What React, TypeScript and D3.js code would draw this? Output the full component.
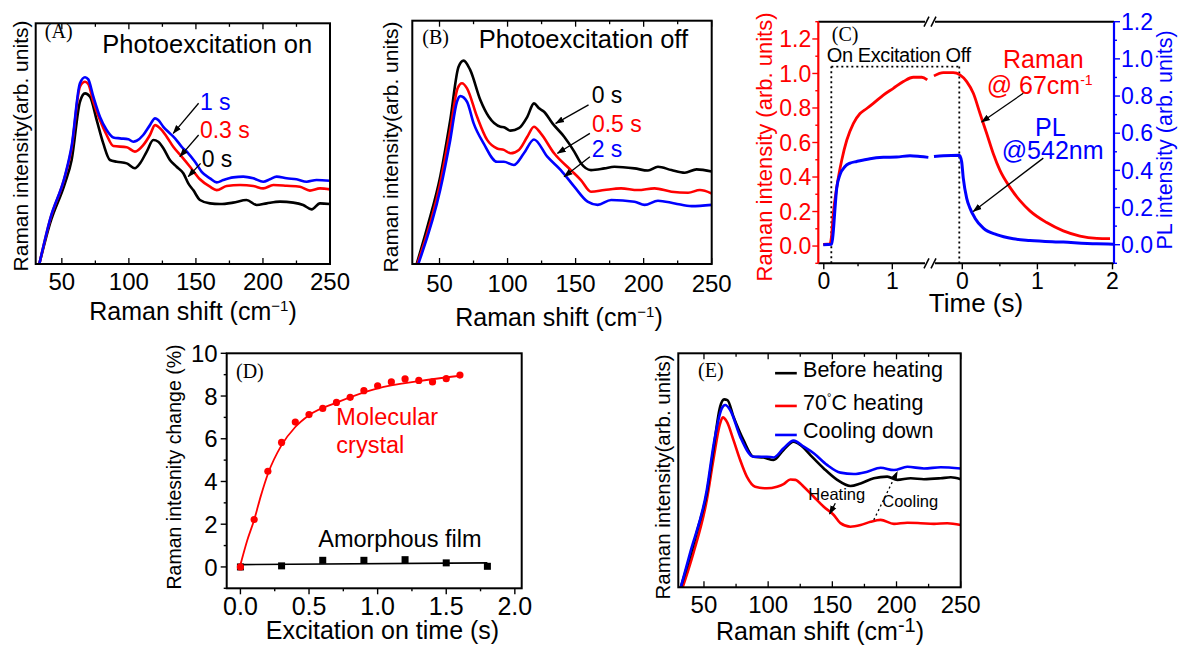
import React from 'react';
import * as d3 from 'd3';

type P = [number, number];

const RED = '#ff0000';
const BLUE = '#0000ff';
const SANS = "'Liberation Sans', Arial, sans-serif";
const SERIF = "'Liberation Serif', 'Times New Roman', serif";

// (A) photoexcitation on : [Raman shift, intensity]
const aTime0: P[] = [[33.2,0],[41.2,0.169],[52.3,0.335],[57.3,0.432],[63.5,0.674],[67.3,0.709],[71,0.695],[76,0.598],[80.9,0.501],[85.9,0.432],[90.9,0.425],[98.4,0.418],[104.5,0.398],[108.3,0.418],[113.3,0.467],[118.2,0.515],[121.9,0.508],[125.7,0.481],[130.6,0.432],[135.6,0.404],[140.6,0.377],[144.3,0.335],[148,0.307],[153,0.266],[160.5,0.252],[167.9,0.249],[177.8,0.255],[187.8,0.266],[195.3,0.245],[202.8,0.252],[212.7,0.259],[222.6,0.255],[230,0.245],[236.3,0.227],[242.5,0.252],[250,0.249]];
const aTime03: P[] = [[33.2,0],[41.2,0.183],[52.3,0.363],[57.3,0.481],[63.5,0.737],[67.3,0.757],[69.7,0.748],[73.5,0.674],[78.4,0.598],[83.4,0.536],[88.4,0.49],[98.4,0.485],[104.5,0.467],[110.7,0.494],[115.7,0.536],[119.5,0.577],[123.2,0.564],[128.2,0.529],[133.1,0.487],[139.4,0.446],[145.6,0.404],[153,0.352],[160.5,0.321],[165.5,0.307],[172.9,0.324],[182.9,0.328],[192.8,0.324],[200.2,0.314],[207.7,0.328],[217.7,0.325],[227.6,0.321],[235,0.305],[242.5,0.314],[250,0.31]];
const aTime1: P[] = [[33.2,0],[41.2,0.186],[52.3,0.366],[57.3,0.49],[63.5,0.751],[67.3,0.776],[69.7,0.767],[73.5,0.695],[78.4,0.612],[83.4,0.557],[88.4,0.526],[93.4,0.522],[99.6,0.518],[103.3,0.508],[105.8,0.512],[110.7,0.536],[115.7,0.577],[119.5,0.605],[121.9,0.598],[125.7,0.57],[130.6,0.543],[134.4,0.522],[139.4,0.487],[144.3,0.46],[149.3,0.425],[154.3,0.383],[160.5,0.356],[165.5,0.339],[170.4,0.349],[177.8,0.36],[185.3,0.363],[192.8,0.356],[200.2,0.342],[205.2,0.352],[210.2,0.363],[217.7,0.356],[225.1,0.352],[232.6,0.342],[240,0.349],[250,0.346]];

// (B) photoexcitation off
const bTime0: P[] = [[33.2,0],[41.8,0.167],[50.5,0.359],[57.9,0.592],[64,0.811],[67.7,0.836],[72.6,0.797],[80,0.674],[86.2,0.605],[94.8,0.564],[97.3,0.562],[102.2,0.548],[108.3,0.558],[114.5,0.605],[119.4,0.66],[123.1,0.64],[126.8,0.626],[133,0.578],[141.6,0.523],[149,0.462],[153.9,0.414],[161.3,0.386],[171.1,0.393],[178.5,0.4],[193.3,0.393],[203.2,0.384],[210.5,0.4],[220.4,0.386],[230.2,0.375],[238.9,0.389],[250,0.38]];
const bTime05: P[] = [[33.7,0],[50.5,0.332],[57.9,0.551],[63.3,0.722],[66.5,0.743],[70.2,0.722],[77.6,0.605],[85,0.51],[92.3,0.475],[97.3,0.469],[102.2,0.455],[108.3,0.469],[114.5,0.523],[119.4,0.564],[124.4,0.537],[134.2,0.455],[146.5,0.386],[153.9,0.345],[161.3,0.297],[171.1,0.304],[183.4,0.311],[195.7,0.304],[208,0.311],[220.4,0.297],[232.7,0.293],[241.3,0.304],[250,0.29]];
const bTime2: P[] = [[34.4,0],[50.5,0.304],[57.9,0.51],[62.8,0.667],[65.3,0.69],[70.2,0.667],[75.1,0.578],[82.4,0.496],[92.3,0.42],[97.3,0.42],[104.6,0.407],[112,0.455],[119.4,0.512],[129.2,0.441],[139.1,0.386],[149,0.318],[158.8,0.256],[166.2,0.243],[176.1,0.263],[193.3,0.256],[200.7,0.243],[210.5,0.26],[222.9,0.249],[235.2,0.238],[250,0.243]];

// (C) time traces, before and after the axis break : [time, intensity]
const ramanOn: P[] = [[-0.01,0.01],[0.09,0.012],[0.116,0.068],[0.139,0.185],[0.189,0.34],[0.261,0.496],[0.335,0.613],[0.431,0.71],[0.529,0.768],[0.627,0.797],[0.723,0.827],[0.869,0.875],[1.015,0.914],[1.161,0.953],[1.307,0.978],[1.43,0.978],[1.51,0.963]];
const ramanOff: P[] = [[-0.377,0.986],[-0.253,1.005],[-0.12,1.005],[-0.031,0.992],[0.059,0.953],[0.147,0.885],[0.236,0.768],[0.325,0.652],[0.413,0.535],[0.502,0.438],[0.635,0.34],[0.768,0.263],[0.9,0.204],[1.124,0.136],[1.345,0.088],[1.567,0.058],[1.79,0.045],[1.967,0.043]];
const plOn: P[] = [[-0.007,0],[0.116,0.003],[0.139,0.072],[0.164,0.197],[0.189,0.305],[0.237,0.377],[0.31,0.421],[0.383,0.439],[0.481,0.448],[0.675,0.463],[0.869,0.47],[1.064,0.472],[1.259,0.479],[1.405,0.475],[1.526,0.47]];
const plOff: P[] = [[-0.377,0.475],[-0.252,0.479],[-0.04,0.481],[-0.009,0.448],[0.013,0.358],[0.058,0.251],[0.102,0.197],[0.169,0.143],[0.28,0.089],[0.457,0.054],[0.679,0.032],[0.901,0.023],[1.345,0.014],[1.789,0.005],[2.01,0.003]];
const cLeftTicks = [0, 0.2, 0.4, 0.6, 0.8, 1.0, 1.2];
const cRightTicks = [0, 0.2, 0.4, 0.6, 0.8, 1.0, 1.2];

// (D) intensity change vs excitation time
const crystalTime = [0, 0.1, 0.2, 0.3, 0.4, 0.5, 0.6, 0.7, 0.8, 0.9, 1.0, 1.1, 1.2, 1.3, 1.4, 1.5, 1.6];
const crystalPct = [0, 2.22, 4.48, 5.83, 6.78, 7.13, 7.42, 7.7, 7.94, 8.25, 8.48, 8.66, 8.8, 8.73, 8.66, 8.81, 8.98];
const crystalFit: P[] = [[0,0.1],[0.05,1.25],[0.1,2.2],[0.15,3.35],[0.2,4.35],[0.3,5.7],[0.4,6.55],[0.5,7.1],[0.7,7.69],[1.0,8.36],[1.3,8.7],[1.6,8.95]];
const filmTime = [0, 0.3, 0.6, 0.9, 1.2, 1.5, 1.8];
const filmPct = [0, 0.05, 0.31, 0.31, 0.34, 0.19, 0.03];
const filmFit: P[] = [[0,0.11],[1.8,0.19]];
const dYTicks = [0, 2, 4, 6, 8, 10];
const dXTicks = [0, 0.5, 1.0, 1.5, 2.0];

// (E) heating cycle
const eBefore: P[] = [[31.9,0],[39.1,0.131],[45.6,0.259],[52.2,0.402],[57.3,0.587],[62.6,0.772],[65.7,0.803],[68.3,0.8],[73,0.729],[80.8,0.629],[88.6,0.558],[96.4,0.555],[104.2,0.544],[112,0.587],[119.8,0.622],[125.1,0.608],[132.9,0.565],[143.3,0.508],[153.8,0.459],[164.1,0.433],[172,0.444],[182.3,0.466],[192.8,0.473],[200.6,0.459],[211,0.466],[221.4,0.462],[234.4,0.466],[242.3,0.47],[250,0.462]];
const eHeating: P[] = [[33.4,0],[41.7,0.145],[52.2,0.373],[57.3,0.544],[62.6,0.701],[64.7,0.726],[67.8,0.708],[73,0.629],[78.2,0.544],[83.4,0.473],[89.9,0.43],[99,0.423],[106.9,0.43],[112,0.441],[117.3,0.461],[121.2,0.459],[127.7,0.43],[135.5,0.387],[143.3,0.344],[151.1,0.309],[156.3,0.274],[164.1,0.259],[172,0.266],[179.8,0.28],[187.6,0.288],[198,0.271],[208.4,0.276],[218.8,0.274],[229.2,0.271],[239.6,0.274],[250,0.266]];
const eCooling: P[] = [[31.9,0],[39.1,0.145],[52.2,0.416],[58.1,0.629],[63.9,0.765],[66.5,0.779],[70.4,0.758],[78.2,0.644],[88.6,0.558],[99,0.558],[104.2,0.555],[112,0.594],[119.8,0.627],[127.7,0.601],[135.5,0.573],[145.9,0.523],[156.3,0.49],[166.7,0.484],[177.2,0.494],[187.6,0.511],[198,0.501],[208.4,0.515],[221.4,0.508],[234.4,0.513],[250,0.508]];

const ramanTicks = [50, 100, 150, 200, 250];
const ramanMinor = [75, 125, 175, 225];

type Box = { l: number; t: number; r: number; b: number };
type Note = { text: string; color: string; at: P; from: P; to: P };

function SpectrumPanel(props: {
  id: string; box: Box; xDomain: [number, number];
  series: { data: P[]; color: string }[];
  label: string; labelAt: P; title?: string; titleAt?: P;
  notes?: Note[]; tickBase: number; xTitleAt: P; yTitleAt: P; yTitleSize: number;
  bigSup?: boolean; children?: (x: any, y: any) => React.ReactNode;
}) {
  const { box } = props;
  const x = d3.scaleLinear(props.xDomain, [box.l, box.r]);
  const y = d3.scaleLinear([0, 1], [box.b, box.t]);
  const line = d3.line<P>().x(d => x(d[0])).y(d => y(d[1])).curve(d3.curveMonotoneX);
  return (
    <g>
      <clipPath id={props.id}>
        <rect x={box.l} y={box.t - 2} width={box.r - box.l} height={box.b - box.t + 2} />
      </clipPath>
      <g clipPath={`url(#${props.id})`}>
        {props.series.map((s, i) => (
          <path key={i} d={line(s.data) || ''} fill="none" stroke={s.color} strokeWidth={2.6} strokeLinejoin="round" />
        ))}
      </g>
      <rect x={box.l} y={box.t} width={box.r - box.l} height={box.b - box.t} fill="none" stroke="#000" strokeWidth={2} />
      {ramanTicks.concat(ramanMinor).map(v => {
        const len = ramanTicks.includes(v) ? 6 : 3.5;
        return (
          <g key={v} stroke="#000" strokeWidth={1.3}>
            <line x1={x(v)} x2={x(v)} y1={box.b} y2={box.b - len} />
            <line x1={x(v)} x2={x(v)} y1={box.t} y2={box.t + len} />
          </g>
        );
      })}
      {ramanTicks.map(v => (
        <text key={v} x={x(v)} y={props.tickBase} textAnchor="middle" fontSize={24}>{v}</text>
      ))}
      <text x={props.xTitleAt[0]} y={props.xTitleAt[1]} textAnchor="middle" fontSize={25}>
        Raman shift (cm
        {props.bigSup
          ? <tspan dy={-8} fontSize={20}>-1</tspan>
          : <tspan dy={-9} fontSize={15}>−1</tspan>}
        <tspan dy={props.bigSup ? 8 : 9}>)</tspan>
      </text>
      <text transform={`translate(${props.yTitleAt[0]},${props.yTitleAt[1]}) rotate(-90)`} textAnchor="middle" fontSize={props.yTitleSize}>
        Raman intensity(arb. units)
      </text>
      <text x={x(props.labelAt[0])} y={y(props.labelAt[1])} fontFamily={SERIF} fontSize={20}>{props.label}</text>
      {props.title && props.titleAt && (
        <text x={x(props.titleAt[0])} y={y(props.titleAt[1])} fontSize={25.5}>{props.title}</text>
      )}
      {(props.notes || []).map((n, i) => (
        <g key={i}>
          <line x1={x(n.from[0])} y1={y(n.from[1])} x2={x(n.to[0])} y2={y(n.to[1])} stroke="#000" strokeWidth={1.3} markerEnd="url(#arrow)" />
          <text x={x(n.at[0])} y={y(n.at[1])} fill={n.color} fontSize={23}>{n.text}</text>
        </g>
      ))}
      {props.children && props.children(x, y)}
    </g>
  );
}

function PanelC() {
  const box: Box = { l: 818.3, t: 21.7, r: 1114, b: 263.3 };
  const brk = 930;
  const x1 = d3.scaleLinear([-0.08, 1.55], [box.l, brk]);
  const x2 = d3.scaleLinear([-0.43, 2.02], [brk, box.r]);
  const yR = d3.scaleLinear([-0.1, 1.3], [box.b, box.t]);
  const yB = d3.scaleLinear([-0.1, 1.2], [box.b, box.t]);
  const mk = (xs: any, ys: any) => d3.line<P>().x(d => xs(d[0])).y(d => ys(d[1])).curve(d3.curveMonotoneX);
  const minorY = d3.range(-0.1, 1.31, 0.1).map(v => Math.round(v * 10) / 10);
  const boxTop = yR(1.04);
  const onX = x1(0.11);
  const offX = x2(-0.04);
  const brkMark = (yy: number) => (
    <g>
      <rect x={brk - 5} y={yy - 3} width={10} height={6} fill="#fff" />
      <line x1={brk - 6} y1={yy + 5} x2={brk - 1} y2={yy - 5} stroke="#000" strokeWidth={1.6} />
      <line x1={brk + 1} y1={yy + 5} x2={brk + 6} y2={yy - 5} stroke="#000" strokeWidth={1.6} />
    </g>
  );
  return (
    <g>
      {/* dotted excitation window */}
      <g stroke="#000" strokeWidth={1.8} strokeDasharray="2,3" fill="none">
        <line x1={onX} x2={onX} y1={box.b} y2={boxTop} />
        <line x1={onX} x2={offX} y1={boxTop} y2={boxTop} />
        <line x1={offX} x2={offX} y1={boxTop} y2={box.b} />
      </g>
      <path d={mk(x1, yR)(ramanOn) || ''} fill="none" stroke={RED} strokeWidth={2.8} />
      <path d={mk(x2, yR)(ramanOff) || ''} fill="none" stroke={RED} strokeWidth={2.8} />
      <path d={mk(x1, yB)(plOn) || ''} fill="none" stroke={BLUE} strokeWidth={3} />
      <path d={mk(x2, yB)(plOff) || ''} fill="none" stroke={BLUE} strokeWidth={3} />
      {/* axes */}
      <line x1={box.l} x2={box.r} y1={box.t} y2={box.t} stroke="#000" strokeWidth={2} />
      <line x1={box.l} x2={box.r} y1={box.b} y2={box.b} stroke="#000" strokeWidth={2} />
      <line x1={box.l} x2={box.l} y1={box.t} y2={box.b} stroke={RED} strokeWidth={2.2} />
      <line x1={box.r} x2={box.r} y1={box.t} y2={box.b} stroke={BLUE} strokeWidth={2.2} />
      {brkMark(box.t)}
      {brkMark(box.b)}
      {minorY.map(v => {
        const major = cLeftTicks.some(t => Math.abs(t - v) < 1e-6);
        return (
          <g key={v}>
            <line x1={box.l} x2={box.l - (major ? 6 : 3)} y1={yR(v)} y2={yR(v)} stroke={RED} strokeWidth={1.4} />
            {v <= 1.2 && <line x1={box.r} x2={box.r + (major ? 6 : 3)} y1={yB(v)} y2={yB(v)} stroke={BLUE} strokeWidth={1.4} />}
          </g>
        );
      })}
      {cLeftTicks.map(v => (
        <text key={v} x={box.l - 7} y={yR(v)} dy="0.36em" textAnchor="end" fontSize={23} fill={RED}>{v.toFixed(1)}</text>
      ))}
      {cRightTicks.map(v => (
        <text key={v} x={box.r + 7} y={yB(v)} dy="0.36em" textAnchor="start" fontSize={23} fill={BLUE}>{v.toFixed(1)}</text>
      ))}
      {[0, 0.5, 1].map(v => (
        <line key={'a' + v} x1={x1(v)} x2={x1(v)} y1={box.b} y2={box.b + (v % 1 ? 3 : 6)} stroke="#000" strokeWidth={1.4} />
      ))}
      {[0, 0.5, 1, 1.5, 2].map(v => (
        <line key={'b' + v} x1={x2(v)} x2={x2(v)} y1={box.b} y2={box.b + (v % 1 ? 3 : 6)} stroke="#000" strokeWidth={1.4} />
      ))}
      {[0, 1].map(v => <text key={'ta' + v} x={x1(v)} y={289} textAnchor="middle" fontSize={23}>{v}</text>)}
      {[0, 1, 2].map(v => <text key={'tb' + v} x={x2(v)} y={289} textAnchor="middle" fontSize={23}>{v}</text>)}
      <text x={976} y={312} textAnchor="middle" fontSize={26}>Time (s)</text>
      <text transform="translate(772,147) rotate(-90)" textAnchor="middle" fontSize={22} fill={RED}>Raman intensity (arb. units)</text>
      <text transform="translate(1172,140) rotate(-90)" textAnchor="middle" fontSize={21.5} fill={BLUE}>PL intensity (arb. units)</text>
      <text x={x1(0.116)} y={yR(1.186)} fontFamily={SERIF} fontSize={20}>(C)</text>
      <text x={x1(0.043)} y={yR(1.069)} fontSize={20} letterSpacing={-0.4}>On Excitation Off</text>
      <text x={x2(0.542)} y={yR(1.031)} fontSize={25} fill={RED}>Raman</text>
      <text x={x2(0.325)} y={yR(0.879)} fontSize={25} fill={RED}>@ 67cm<tspan dy={-9} fontSize={14}>-1</tspan></text>
      <text x={x2(0.968)} y={yB(0.585)} fontSize={25} fill={BLUE}>PL</text>
      <text x={x2(0.525)} y={yB(0.463)} fontSize={25} fill={BLUE}>@542nm</text>
      <line x1={x2(0.812)} y1={yR(0.885)} x2={x2(0.258)} y2={yR(0.719)} stroke="#000" strokeWidth={1.3} markerEnd="url(#arrow)" />
      <line x1={x2(1.079)} y1={yB(0.466)} x2={x2(0.146)} y2={yB(0.179)} stroke="#000" strokeWidth={1.3} markerEnd="url(#arrow)" />
    </g>
  );
}

function PanelD() {
  const box: Box = { l: 226.7, t: 353.3, r: 521.7, b: 588.3 };
  const x = d3.scaleLinear([-0.1, 2.05], [box.l, box.r]);
  const y = d3.scaleLinear([-1, 10], [box.b, box.t]);
  const fit = d3.line<P>().x(d => x(d[0])).y(d => y(d[1])).curve(d3.curveMonotoneX);
  const yMinor = [-1, 1, 3, 5, 7, 9];
  const xMinor = [0.25, 0.75, 1.25, 1.75];
  return (
    <g>
      <rect x={box.l} y={box.t} width={box.r - box.l} height={box.b - box.t} fill="none" stroke="#000" strokeWidth={2} />
      {dYTicks.map(v => <line key={v} x1={box.l} x2={box.l - 6} y1={y(v)} y2={y(v)} stroke="#000" strokeWidth={1.4} />)}
      {yMinor.map(v => <line key={v} x1={box.l} x2={box.l - 3} y1={y(v)} y2={y(v)} stroke="#000" strokeWidth={1.4} />)}
      {dXTicks.map(v => <line key={v} x1={x(v)} x2={x(v)} y1={box.b} y2={box.b + 6} stroke="#000" strokeWidth={1.4} />)}
      {xMinor.map(v => <line key={v} x1={x(v)} x2={x(v)} y1={box.b} y2={box.b + 3} stroke="#000" strokeWidth={1.4} />)}
      {dYTicks.map(v => <text key={v} x={box.l - 9} y={y(v)} dy="0.36em" textAnchor="end" fontSize={24}>{v}</text>)}
      {dXTicks.map(v => <text key={v} x={x(v)} y={614.5} textAnchor="middle" fontSize={25}>{v.toFixed(1)}</text>)}
      <text x={382.5} y={639} textAnchor="middle" fontSize={25}>Excitation on time (s)</text>
      <text transform="translate(181,467) rotate(-90)" textAnchor="middle" fontSize={19.5}>Raman intesnity change (%)</text>
      <path d={fit(filmFit) || ''} fill="none" stroke="#000" strokeWidth={1.6} />
      {filmTime.map((t, i) => (
        <rect key={t} x={x(t) - 3.5} y={y(filmPct[i]) - 3.5} width={7} height={7} fill="#000" />
      ))}
      <path d={fit(crystalFit) || ''} fill="none" stroke={RED} strokeWidth={1.8} />
      {crystalTime.map((t, i) => (
        <circle key={t} cx={x(t)} cy={y(crystalPct[i])} r={3.6} fill={RED} />
      ))}
      <text x={x(-0.032)} y={y(8.83)} fontFamily={SERIF} fontSize={20}>(D)</text>
      <text x={x(0.699)} y={y(6.64)} fontSize={23.5} fill={RED}>Molecular</text>
      <text x={x(0.699)} y={y(5.31)} fontSize={23.5} fill={RED}>crystal</text>
      <text x={x(0.567)} y={y(0.94)} fontSize={23.5}>Amorphous film</text>
    </g>
  );
}

export default function App() {
  return (
    <svg width={1179} height={645} style={{ position: 'absolute', left: 0, top: 0, background: '#fff' }} fontFamily={SANS}>
      <defs>
        <marker id="arrow" viewBox="0 0 10 10" refX={9} refY={5} markerWidth={7} markerHeight={7} orient="auto">
          <path d="M0,1.5 L10,5 L0,8.5 z" fill="#000" />
        </marker>
      </defs>
      <SpectrumPanel
        id="clipA" box={{ l: 35.7, t: 23.3, r: 330, b: 264 }} xDomain={[30.5, 250]}
        series={[{ data: aTime0, color: '#000' }, { data: aTime03, color: RED }, { data: aTime1, color: BLUE }]}
        label="(A)" labelAt={[37.3, 0.94]} title="Photoexcitation on" titleAt={[80.2, 0.877]}
        notes={[
          { text: '1 s', color: BLUE, at: [153, 0.64], from: [152, 0.668], to: [133.1, 0.543] },
          { text: '0.3 s', color: RED, at: [153, 0.523], from: [152, 0.536], to: [138.1, 0.446] },
          { text: '0 s', color: '#000', at: [154.3, 0.403], from: [153.5, 0.418], to: [144.3, 0.363] },
        ]}
        tickBase={290} xTitleAt={[193, 320]} yTitleAt={[28, 146]} yTitleSize={21}
      />
      <SpectrumPanel
        id="clipB" box={{ l: 412.3, t: 20.7, r: 711.7, b: 264 }} xDomain={[30, 250]}
        series={[{ data: bTime0, color: '#000' }, { data: bTime05, color: RED }, { data: bTime2, color: BLUE }]}
        label="(B)" labelAt={[37.3, 0.905]} title="Photoexcitation off" titleAt={[78.8, 0.888]}
        notes={[
          { text: '0 s', color: '#000', at: [161.8, 0.662], from: [159.5, 0.654], to: [135.4, 0.578] },
          { text: '0.5 s', color: RED, at: [162, 0.543], from: [160.5, 0.537], to: [136.7, 0.455] },
          { text: '2 s', color: BLUE, at: [161.8, 0.44], from: [160.5, 0.441], to: [141.6, 0.359] },
        ]}
        tickBase={291.5} xTitleAt={[559, 326]} yTitleAt={[398, 147]} yTitleSize={21}
      />
      <PanelC />
      <PanelD />
      <SpectrumPanel
        id="clipE" box={{ l: 678.3, t: 353.3, r: 960.7, b: 587.3 }} xDomain={[30, 250]}
        series={[{ data: eHeating, color: RED }, { data: eBefore, color: '#000' }, { data: eCooling, color: BLUE }]}
        label="(E)" labelAt={[45.4, 0.9]}
        tickBase={613} xTitleAt={[820, 639.5]} yTitleAt={[670, 477]} yTitleSize={20.5} bigSup
      >
        {(x, y) => (
          <g>
            {[
              { c: '#000', v: 0.915, tv: 0.9, t: <>Before heating</> },
              { c: RED, v: 0.775, tv: 0.758, t: <>70<tspan dy={-9} fontSize={11}>°</tspan><tspan dy={9}>C heating</tspan></> },
              { c: BLUE, v: 0.651, tv: 0.637, t: <>Cooling down</> },
            ].map((d, i) => (
              <g key={i}>
                <line x1={x(105.4)} x2={x(122.3)} y1={y(d.v)} y2={y(d.v)} stroke={d.c} strokeWidth={2.6} />
                <text x={x(127.2)} y={y(d.tv)} fontSize={21.5}>{d.t}</text>
              </g>
            ))}
            <text x={x(131.3)} y={y(0.373)} fontSize={16.5}>Heating</text>
            <line x1={x(152.3)} y1={y(0.359)} x2={x(147.9)} y2={y(0.313)} stroke="#000" strokeWidth={1.3} markerEnd="url(#arrow)" />
            <text x={x(188.9)} y={y(0.344)} fontSize={16.5}>Cooling</text>
            <line x1={x(182.3)} y1={y(0.288)} x2={x(200.6)} y2={y(0.494)} stroke="#000" strokeWidth={1.3} strokeDasharray="2,3" markerEnd="url(#arrow)" />
          </g>
        )}
      </SpectrumPanel>
    </svg>
  );
}
